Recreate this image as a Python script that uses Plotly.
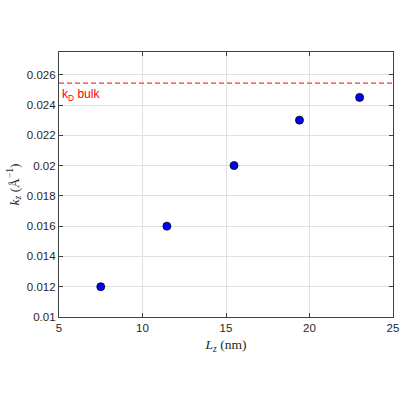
import plotly.graph_objects as go

# chain length vs decay constant
Lz_nm = [7.5, 11.46, 15.48, 19.4, 23.0]
kz = [0.012, 0.016, 0.020, 0.023, 0.0245]
kD_bulk = 0.02545

x_ticks = [5, 10, 15, 20, 25]
y_ticks = [0.01, 0.012, 0.014, 0.016, 0.018, 0.02, 0.022, 0.024, 0.026]
y_ticktext = ['0.01', '0.012', '0.014', '0.016', '0.018', '0.02', '0.022', '0.024', '0.026']

fig = go.Figure()

fig.add_trace(go.Scatter(
    x=Lz_nm, y=kz, mode='markers',
    marker=dict(color='#0000ff', size=8, line=dict(color='black', width=0.8)),
    showlegend=False,
))

# bulk reference line
fig.add_shape(type='line', xref='paper', yref='y', x0=0, x1=1, y0=kD_bulk, y1=kD_bulk,
              line=dict(color='#ff3333', width=1.2, dash='5px,3px'))

fig.add_annotation(x=5.05, y=kD_bulk, xref='x', yref='y', xanchor='left', yanchor='top',
                   yshift=-2, text='k<sub>D</sub> bulk', showarrow=False,
                   font=dict(color='#ff0000', size=12, family='Liberation Sans, Arial'))

axis_style = dict(
    showline=True, linecolor='#404040', linewidth=1.2, mirror='allticks',
    ticks='inside', ticklen=4, tickcolor='#404040',
    showgrid=True, gridcolor='#e0e0e0', gridwidth=1, zeroline=False,
    automargin=False,
    tickfont=dict(size=11.5, color='#262626', family='Liberation Sans, Arial'),
)

fig.update_xaxes(range=[5, 25], tickvals=x_ticks,
                 title=dict(text='<i>L<sub>z</sub></i> (nm)', standoff=6,
                            font=dict(size=13.5, family='Liberation Serif, serif', color='#262626')),
                 **axis_style)
fig.update_yaxes(range=[0.01, 0.0275], tickvals=y_ticks, ticktext=y_ticktext,
                 title=dict(text='<i>k<sub>z</sub></i> (Å<sup>−1</sup>)', standoff=4,
                            font=dict(size=13.5, family='Liberation Serif, serif', color='#262626')),
                 **axis_style)

fig.update_layout(
    width=400, height=400,
    margin=dict(l=59, r=7, t=52, b=83),
    plot_bgcolor='white', paper_bgcolor='white',
)

# drop the page margin so the 400x400 figure fills the window
fig.write_html('out.html', config={'displayModeBar': False},
               post_script="document.body.style.margin='0';")
